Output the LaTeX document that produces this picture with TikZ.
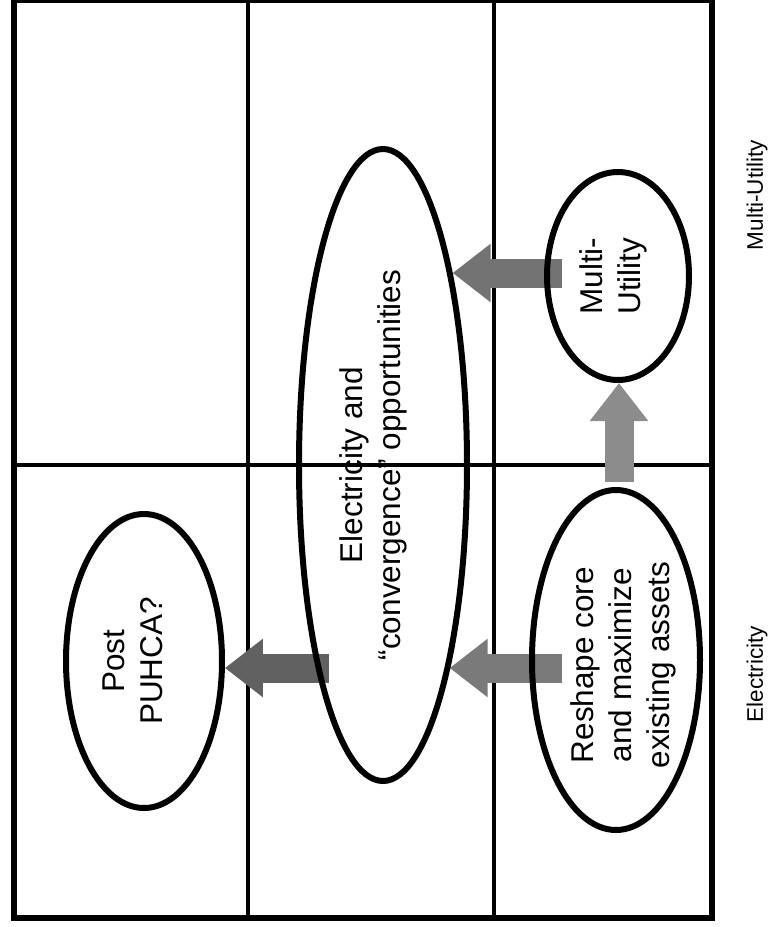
\documentclass[tikz,border=0pt]{standalone}
\usepackage{fontspec}
\setmainfont{Liberation Sans}
\usetikzlibrary{arrows.meta,shapes.geometric}
\pgfdeclarelayer{background}
\pgfsetlayers{background,main}

\begin{document}
\begin{tikzpicture}[x=1pt,y=-1pt,
  frame/.style={line width=6.5pt},
  gridline/.style={line width=3.2pt},
  oval/.style={ellipse, draw, line width=6pt, inner sep=0pt},
  txt/.style={rotate=90, align=center, inner sep=0pt,
    font=\fontsize{31.5}{38}\selectfont},
  axislabel/.style={rotate=90, inner sep=0pt,
    font=\fontsize{22.5}{27}\selectfont},
  blockarrow/.style={line width=29pt, line cap=butt,
    -{Triangle[length=38pt,width=56pt]}},
]
\useasboundingbox (0,0) rectangle (770,927);

% strategy ovals
\node[oval, minimum width=156pt, minimum height=294pt] (post)    at (144,661) {};
\node[oval, minimum width=168pt, minimum height=632pt] (big)     at (383,465) {};
\node[oval, minimum width=142pt, minimum height=208pt] (multi)   at (618,276) {};
\node[oval, minimum width=168pt, minimum height=340pt] (reshape) at (616,660) {};

% arrow tails sit just inside the source ovals
\coordinate (mTail) at ([shift={(18,-3)}]multi.west);
\coordinate (rTail) at ([shift={(33,8)}]reshape.west);
\coordinate (bTail) at ([shift={(-54,203)}]big.center);
\coordinate (uTail) at ([shift={(3,-5)}]reshape.north);

\begin{pgfonlayer}{background}
  % quadrant grid
  \draw[gridline] (248,0) -- (248,918);
  \draw[gridline] (494,0) -- (494,918);
  \draw[gridline] (14,465) -- (712,465);
  % block arrows, beneath the oval outlines
  \draw[blockarrow, draw=black!55] (mTail) -- (mTail -| big.70);
  \draw[blockarrow, draw=black!52] (rTail) -- (rTail -| big.-72);
  \draw[blockarrow, draw=black!62] (bTail) -- (bTail -| post.-5);
  \draw[blockarrow, draw=black!45] (uTail) -- (uTail |- multi.south);
\end{pgfonlayer}

% oval texts
\node[txt] (tPost)    at (132.5,661) {Post\\PUHCA?};
\node[txt] (tBig)     at (373,465)   {Electricity and\\“convergence” opportunities};
\node[txt] (tMulti)   at (613,276)   {Multi-\\Utility};
\node[txt] (tReshape) at (623,665)   {Reshape core\\and maximize\\existing assets};

% axis labels
\node[axislabel] (lblMU) at (757,195) {Multi-Utility};
\node[axislabel] (lblE)  at (757,674) {Electricity};

% outer frame
\draw[frame] (14,0) rectangle (712,918);
\end{tikzpicture}
\end{document}
